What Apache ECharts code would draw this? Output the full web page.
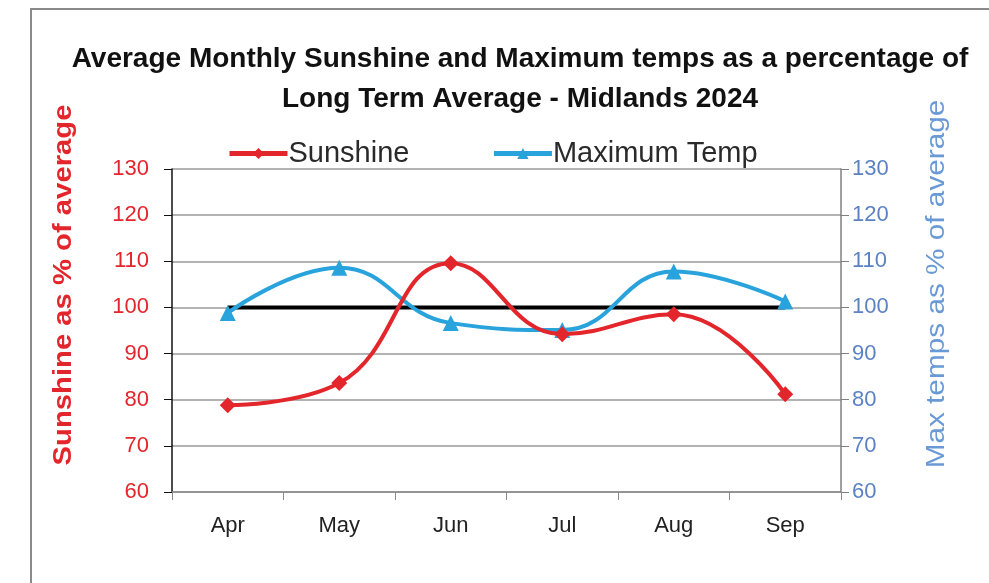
<!DOCTYPE html>
<html>
<head>
<meta charset="utf-8">
<script src="https://cdn.jsdelivr.net/npm/echarts@6/dist/echarts.min.js"></script>
<style>
  html, body { margin: 0; padding: 0; background: #ffffff; }
  #chart { width: 989px; height: 583px; }
</style>
</head>
<body>
<div id="chart"></div>
<script>
// Months shown on the category axis
const months = ['Apr', 'May', 'Jun', 'Jul', 'Aug', 'Sep'];
// Sunshine as % of long term average
const sunshine = [78.8, 83.6, 109.6, 94.2, 98.5, 81.2];
// Maximum temperature as % of long term average
const maxTemp = [98.8, 108.6, 96.6, 95.1, 107.8, 101.3];
// Long term average reference level
const average = [100, 100, 100, 100, 100, 100];

const FONT = 'Liberation Sans, Arial, sans-serif';
const RED = '#e3262b';
const BLUE = '#29a3dc';

const chart = echarts.init(document.getElementById('chart'));

chart.setOption({
  backgroundColor: '#ffffff',
  animation: false,
  graphic: [{
    type: 'rect',
    shape: { x: 31, y: 9, width: 1000, height: 620 },
    style: { fill: 'none', stroke: '#8a8a8a', lineWidth: 2 },
    z: -1
  }, {
    // left axis title (slightly condensed glyphs, stretched along the reading direction)
    type: 'text',
    x: 64, y: 285,
    rotation: Math.PI / 2,
    scaleX: 1.17,
    style: {
      text: 'Sunshine as % of average',
      fontFamily: FONT,
      fontSize: 25,
      fontWeight: 'bold',
      fill: RED,
      align: 'center',
      verticalAlign: 'middle'
    }
  }, {
    // right axis title
    type: 'text',
    x: 937, y: 284,
    rotation: Math.PI / 2,
    scaleX: 1.19,
    style: {
      text: 'Max temps as % of average',
      fontFamily: FONT,
      fontSize: 25,
      fill: '#6a9ad6',
      align: 'center',
      verticalAlign: 'middle'
    }
  }],
  title: {
    text: 'Average Monthly Sunshine and Maximum temps as a percentage of\nLong Term Average - Midlands 2024',
    left: 515,
    textAlign: 'center',
    top: 34,
    textStyle: {
      fontFamily: FONT,
      fontWeight: 'bold',
      fontSize: 28,
      lineHeight: 40,
      color: '#111111'
    }
  },
  legend: {
    top: 134,
    left: 222,
    itemGap: 82,
    itemWidth: 58,
    itemHeight: 14,
    data: ['Sunshine', 'Maximum Temp'],
    lineStyle: { width: 5 },
    textStyle: {
      fontFamily: FONT,
      fontSize: 29,
      color: '#2a2a2a',
      padding: [0, 0, 0, -4]
    }
  },
  grid: { left: 172, right: 148, top: 169, bottom: 91 },
  xAxis: {
    type: 'category',
    data: months,
    boundaryGap: true,
    axisLine: { lineStyle: { color: '#8a8a8a', width: 1.5 } },
    axisTick: { show: true, length: 8, lineStyle: { color: '#8a8a8a' } },
    axisLabel: {
      margin: 23,
      fontFamily: FONT,
      fontSize: 22,
      color: '#222222'
    }
  },
  yAxis: [{
    type: 'value',
    min: 60, max: 130, interval: 10,
    position: 'left',
    axisLine: { show: true, lineStyle: { color: '#111111', width: 1.5 } },
    axisTick: { show: true, length: 8, lineStyle: { color: '#111111' } },
    axisLabel: {
      margin: 23,
      fontFamily: FONT,
      fontSize: 22,
      color: RED
    },
    splitLine: { show: true, lineStyle: { color: '#9a9a9a', width: 1.5 } }
  }, {
    type: 'value',
    min: 60, max: 130, interval: 10,
    position: 'right',
    axisLine: { show: true, lineStyle: { color: '#808080', width: 1.5 } },
    axisTick: { show: true, length: 8, lineStyle: { color: '#808080' } },
    axisLabel: {
      margin: 11,
      fontFamily: FONT,
      fontSize: 22,
      color: '#5b82c4'
    },
    splitLine: { show: false }
  }],
  series: [{
    name: 'Average',
    type: 'line',
    data: average,
    yAxisIndex: 0,
    symbol: 'none',
    lineStyle: { color: '#000000', width: 4 },
    z: 1
  }, {
    name: 'Sunshine',
    type: 'line',
    data: sunshine,
    yAxisIndex: 0,
    smooth: 0.45,
    symbol: 'diamond',
    symbolSize: 16,
    itemStyle: { color: RED },
    lineStyle: { color: RED, width: 4 },
    z: 3
  }, {
    name: 'Maximum Temp',
    type: 'line',
    data: maxTemp,
    yAxisIndex: 1,
    smooth: 0.45,
    symbol: 'triangle',
    symbolSize: 16,
    itemStyle: { color: BLUE },
    lineStyle: { color: BLUE, width: 4 },
    z: 2
  }]
});
</script>
</body>
</html>
